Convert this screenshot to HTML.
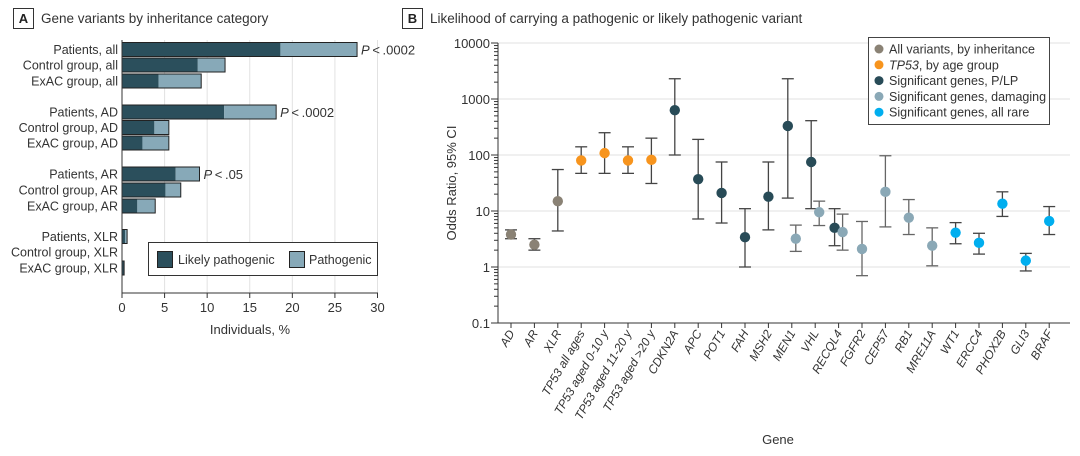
<!DOCTYPE html>
<html><head><meta charset="utf-8"><style>
html,body{margin:0;padding:0;background:#fff;width:1080px;height:456px;overflow:hidden}
svg{display:block;font-family:"Liberation Sans Narrow","Liberation Sans",sans-serif}
</style></head><body>
<svg id="s" width="1080" height="456" viewBox="0 0 1080 456">
<g>
<rect x="13.5" y="8.5" width="20" height="20" fill="#fff" stroke="#333"/>
<text x="23.5" y="23" text-anchor="middle" font-size="13" font-weight="bold" fill="#222">A</text>
<text x="41" y="23" font-size="13.5" fill="#333">Gene variants by inheritance category</text>
</g>
<g>
<rect x="402.5" y="8.5" width="20" height="20" fill="#fff" stroke="#333"/>
<text x="412.5" y="23" text-anchor="middle" font-size="13" font-weight="bold" fill="#222">B</text>
<text x="430" y="23" font-size="13.5" fill="#333">Likelihood of carrying a pathogenic or likely pathogenic variant</text>
</g>
<g id="A"></g>
<g id="B"></g>
</svg>
<script>
const NS='http://www.w3.org/2000/svg';
function mk(p,t,a){const e=document.createElementNS(NS,t);for(const k in a)e.setAttribute(k,a[k]);p.appendChild(e);return e;}
// ---- Panel A data
const barLabels=['Patients, all','Control group, all','ExAC group, all','Patients, AD','Control group, AD','ExAC group, AD','Patients, AR','Control group, AR','ExAC group, AR','Patients, XLR','Control group, XLR','ExAC group, XLR'];
const likelyPathogenic=[18.6,8.9,4.3,12.0,3.8,2.4,6.3,5.1,1.8,0.35,0,0.25];
const pathogenic=[9.0,3.2,5.0,6.1,1.7,3.1,2.8,1.8,2.1,0.25,0,0];
const pLabels={0:'P<.0002',3:'P<.0002',6:'P<.05'};
const xTicks=[0,5,10,15,20,25,30];
const rowY=[49.5,65,81,112,127.5,143,174,190,206,236.5,252,268];
// ---- Panel B data
const genes=['AD','AR','XLR','TP53 all ages','TP53 aged 0-10 y','TP53 aged 11-20 y','TP53 aged >20 y','CDKN2A','APC','POT1','FAH','MSH2','MEN1','VHL','RECQL4','FGFR2','CEP57','RB1','MRE11A','WT1','ERCC4','PHOX2B','GLI3','BRAF'];
const ptGene=[0,1,2,3,4,5,6,7,8,9,10,11,12,12,13,13,14,14,15,16,17,18,19,20,21,22,23];
const ptShift=[0,0,0,0,0,0,0,0,0,0,0,0,-1,1,-1,1,-1,1,0,0,0,0,0,0,0,0,0];
const ptOR=[3.8,2.5,15,80,108,80,82,630,37,21,3.4,18,330,3.2,75,9.5,5,4.2,2.1,22,7.6,2.4,4.1,2.7,13.5,1.3,6.6];
const ptLo=[3.2,2.0,4.4,47,47,47,31,100,7.2,6.1,1.0,4.6,17,1.9,11,5.5,2.4,2.0,0.7,5.2,3.8,1.05,2.6,1.7,8.0,0.85,3.8];
const ptHi=[4.6,3.2,55,140,250,140,200,2300,190,75,11,75,2300,5.6,410,15,11,8.8,6.5,97,16,5.0,6.2,4.0,22,1.75,12];
const ptCat=[0,0,0,1,1,1,1,2,2,2,2,2,2,3,2,3,2,3,3,3,3,3,4,4,4,4,4];
const catNames=['All variants, by inheritance','TP53, by age group','Significant genes, P/LP','Significant genes, damaging','Significant genes, all rare'];
const catColors=['#8a8275','#f7941d','#284b57','#8aa8b6','#00aeef'];
const yTicks=[0.1,1,10,100,1000,10000];
const yTickLabels=['0.1','1','10','100','1000','10000'];

// ---- Draw A
const A=document.getElementById('A');
const ax=v=>122+v*(255.5/30);
xTicks.forEach((t,i)=>{
  if(t>0){const g=mk(A,'line',{x1:ax(t),x2:ax(t),y1:40,y2:293,stroke:'#e2e2e2','stroke-width':1});}
  const tk=mk(A,'line',{x1:ax(t),x2:ax(t),y1:293,y2:298,stroke:'#333'});
  const tl=mk(A,'text',{x:ax(t),y:312,'text-anchor':'middle','font-size':13,fill:'#333'});tl.textContent=t;
});
barLabels.forEach((l,i)=>{
  const y=rowY[i];
  const t=mk(A,'text',{x:118,y:y+4.5,'text-anchor':'end','font-size':12.5,fill:'#333'});t.textContent=l;
  
  
  const tot=likelyPathogenic[i]+pathogenic[i];
  if(tot>0){
    const r1=mk(A,'rect',{x:ax(0),y:y-7,width:ax(likelyPathogenic[i])-ax(0),height:14,fill:'#2b4f5c'});
    
    
    const r2=mk(A,'rect',{x:ax(likelyPathogenic[i]),y:y-7,width:ax(tot)-ax(likelyPathogenic[i]),height:14,fill:'#87a9b8'});
    
    
    const ro=mk(A,'rect',{x:ax(0),y:y-7,width:ax(tot)-ax(0),height:14,fill:'none',stroke:'#222','stroke-width':1});
    
    
  }
  if(pLabels[i]){const p=mk(A,'text',{x:ax(tot)+4,y:y+5,'font-size':13,fill:'#333'});
    p.innerHTML='<tspan font-style="italic">P</tspan>\u2009&lt;\u2009'+pLabels[i].slice(2);
    
    }
});
const axl=mk(A,'path',{d:'M122,40V293H378',fill:'none',stroke:'#333'});
const axt=mk(A,'text',{x:250,y:334,'text-anchor':'middle','font-size':13,fill:'#333'});axt.textContent='Individuals, %';
const lg=mk(A,'g',{});
mk(lg,'rect',{x:148.5,y:242.5,width:229,height:33,fill:'#fff',stroke:'#333'});
mk(lg,'rect',{x:157.5,y:251.5,width:15,height:16,fill:'#2b4f5c',stroke:'#222'});
const lt1=mk(lg,'text',{x:178,y:264,'font-size':12.5,fill:'#333'});lt1.textContent='Likely pathogenic';
mk(lg,'rect',{x:289.5,y:251.5,width:15,height:16,fill:'#87a9b8',stroke:'#222'});
const lt2=mk(lg,'text',{x:309,y:264,'font-size':12.5,fill:'#333'});lt2.textContent='Pathogenic';

// ---- Draw B
const B=document.getElementById('B');
const by=v=>267-56*Math.log10(v);
const bx=i=>511+i*23.4;
yTicks.forEach((t,i)=>{
  if(t>0.1){const g=mk(B,'line',{x1:498,x2:1070,y1:by(t),y2:by(t),stroke:'#e2e2e2'});}
  const tk=mk(B,'line',{x1:491,x2:498,y1:by(t),y2:by(t),stroke:'#333'});
  const tl=mk(B,'text',{x:490,y:by(t)+5,'text-anchor':'end','font-size':13,fill:'#333'});tl.textContent=yTickLabels[i];
  if(i<yTicks.length-1){for(let m=2;m<=9;m++){const mt=mk(B,'line',{x1:494,x2:498,y1:by(t*m),y2:by(t*m),stroke:'#333'});}}
});
genes.forEach((g,i)=>{
  const tk=mk(B,'line',{x1:bx(i),x2:bx(i),y1:323,y2:328,stroke:'#333'});
  const t=mk(B,'text',{x:bx(i)+4,y:333,'text-anchor':'end','font-size':12,'font-style':'italic',fill:'#333',transform:`rotate(-60 ${bx(i)+4} 333)`});
  t.textContent=g;
  
  
});
const bax=mk(B,'path',{d:'M498,43V323H1070',fill:'none',stroke:'#333'});
const yt=mk(B,'text',{x:456,y:183,'text-anchor':'middle','font-size':13,fill:'#333',transform:'rotate(-90 456 183)'});yt.textContent='Odds Ratio, 95% CI';
const xt=mk(B,'text',{x:778,y:444,'text-anchor':'middle','font-size':13,fill:'#333'});xt.textContent='Gene';
ptOR.forEach((v,k)=>{
  const x=bx(ptGene[k])+ptShift[k]*4;
  const g=mk(B,'g',{});
  
  
  const st=ptCat[k]==3?'#666':'#444';
  mk(g,'line',{x1:x,x2:x,y1:by(ptLo[k]),y2:by(ptHi[k]),stroke:st,'stroke-width':1.3});
  mk(g,'line',{x1:x-6,x2:x+6,y1:by(ptLo[k]),y2:by(ptLo[k]),stroke:st,'stroke-width':1.3});
  mk(g,'line',{x1:x-6,x2:x+6,y1:by(ptHi[k]),y2:by(ptHi[k]),stroke:st,'stroke-width':1.3});
  mk(g,'circle',{cx:x,cy:by(v),r:5.2,fill:catColors[ptCat[k]]});
});
const lb=mk(B,'g',{});
mk(lb,'rect',{x:868.5,y:37.5,width:181,height:87,fill:'#fff',stroke:'#444'});
catNames.forEach((n,i)=>{
  const y=49+i*15.8;
  const c=mk(lb,'circle',{cx:879,cy:y,r:4.5,fill:catColors[i]});
  const t=mk(lb,'text',{x:889,y:y+4.5,'font-size':12.5,fill:'#333'});
  if(i==1)t.innerHTML='<tspan font-style="italic">TP53</tspan>, by age group';else t.textContent=n;
  
  
});
</script>
</body></html>
